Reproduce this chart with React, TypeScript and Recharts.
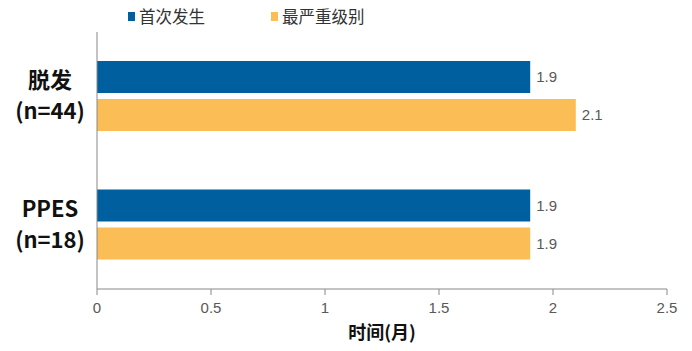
import { Bar, BarChart, LabelList, Legend, XAxis, YAxis } from 'recharts';

if (typeof document !== 'undefined') document.body.style.margin = '0';

// groups from top to bottom
const GROUPS = ['脱发', 'PPES'];
const GROUP_N = ['(n=44)', '(n=18)'];
const FIRST_ONSET = [1.9, 1.9];
const WORST_GRADE = [2.1, 1.9];
const X_TICKS = [0, 0.5, 1, 1.5, 2, 2.5];

const SERIES = [
  { key: 'first', name: '首次发生', color: '#005F9E' },
  { key: 'worst', name: '最严重级别', color: '#FBBD55' },
];

const CJK = '"Noto Sans CJK SC", "Noto Sans", sans-serif';
const LATIN = '"Liberation Sans", Arial, sans-serif';

const data = GROUPS.map((g, i) => ({
  group: g,
  n: GROUP_N[i],
  first: FIRST_ONSET[i],
  worst: WORST_GRADE[i],
}));

function GroupTick(props: any) {
  const { y, payload, index } = props;
  return (
    <text
      x={50}
      y={y}
      textAnchor="middle"
      fontFamily={CJK}
      fontWeight={700}
      fontSize={22}
      fill="#111"
    >
      <tspan x={50} dy={-8}>{payload.value}</tspan>
      <tspan x={50} dy={31}>{GROUP_N[index]}</tspan>
    </text>
  );
}

function LegendRow() {
  return (
    <div
      style={{
        height: 32,
        display: 'flex',
        alignItems: 'center',
        paddingLeft: 128,
        fontFamily: CJK,
        fontSize: 16.5,
        color: '#333',
        boxSizing: 'border-box',
      }}
    >
      {SERIES.map((s) => (
        <div
          key={s.key}
          style={{ display: 'flex', alignItems: 'center', marginRight: 66 }}
        >
          <span
            style={{
              width: 7,
              height: 9,
              background: s.color,
              display: 'inline-block',
              marginRight: 4,
            }}
          />
          {s.name}
        </div>
      ))}
    </div>
  );
}

export default function App() {
  return (
    <div style={{ width: 692, height: 351, background: '#fff' }}>
      <BarChart
        width={692}
        height={351}
        data={data}
        layout="vertical"
        margin={{ top: 0, right: 25, bottom: 10, left: 0 }}
        barSize={32}
        barGap={6}
      >
        <Legend verticalAlign="top" align="left" content={() => <LegendRow />} />
        <XAxis
          type="number"
          domain={[0, 2.5]}
          ticks={X_TICKS}
          interval={0}
          height={52}
          stroke="#888"
          tickSize={6}
          tickMargin={7}
          tick={{ fontSize: 15, fill: '#595959', fontFamily: LATIN }}
          label={{
            value: '时间(月)',
            position: 'insideBottom',
            offset: 2,
            style: {
              fontFamily: CJK,
              fontWeight: 700,
              fontSize: 18,
              fill: '#111',
            },
          }}
        />
        <YAxis
          type="category"
          dataKey="group"
          width={97}
          stroke="#888"
          tickLine={false}
          tick={<GroupTick />}
        />
        {SERIES.map((s) => (
          <Bar
            key={s.key}
            dataKey={s.key}
            name={s.name}
            fill={s.color}
            isAnimationActive={false}
          >
            <LabelList
              dataKey={s.key}
              position="right"
              offset={6}
              style={{ fontSize: 15, fill: '#595959', fontFamily: LATIN }}
            />
          </Bar>
        ))}
      </BarChart>
    </div>
  );
}
